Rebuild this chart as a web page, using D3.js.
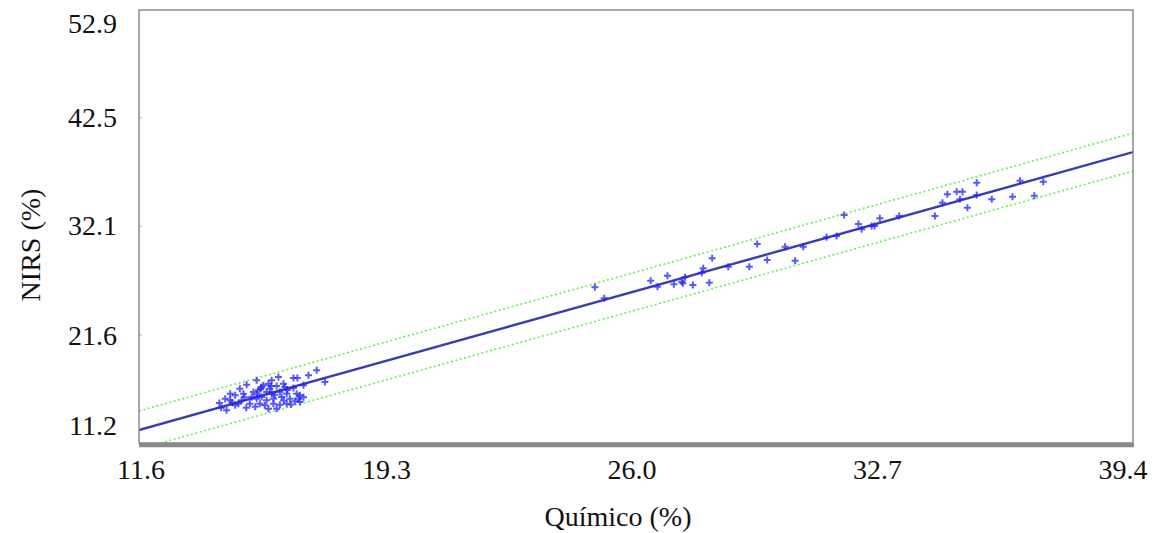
<!DOCTYPE html>
<html>
<head>
<meta charset="utf-8">
<script src="https://cdn.jsdelivr.net/npm/d3@7"></script>
<style>
  html, body { margin: 0; padding: 0; background: #fff; }
  svg { display: block; }
  text { font-family: "Liberation Serif", "Times New Roman", serif; fill: #111; }
</style>
</head>
<body>
<svg id="chart" width="1160" height="533"></svg>
<script>
// Químico (%) values
const quimico = [
  16.57,16.34,15.92,16.03,15.50,15.31,14.89,14.61,15.08,15.22,15.45,15.68,15.92,16.20,16.80,
  14.42,14.15,14.29,14.52,14.80,14.94,15.17,15.31,15.54,15.73,16.01,16.10,14.01,14.15,14.47,
  14.75,14.89,15.03,15.17,15.36,15.59,15.82,16.06,14.98,15.12,15.36,15.54,14.70,15.73,15.96,
  14.38,14.29,15.22,15.45,16.10,15.26,15.03,15.64,13.90,13.85,14.05,14.60,15.85,
  14.20,14.55,14.85,15.40,15.65,15.00,15.75,16.20,14.90,15.30,
  24.35,24.61,25.91,26.10,26.38,26.56,26.78,26.81,26.87,27.09,27.38,27.34,27.55,27.63,28.08,
  28.67,28.89,29.17,29.67,29.95,30.18,30.83,31.11,31.32,31.72,31.81,32.09,32.17,32.32,32.86,
  33.86,34.07,34.21,34.47,34.63,34.56,34.77,35.03,35.03,35.45,36.03,36.24,36.64,36.89
];
// NIRS (%) values
const nirs = [
  18.20,17.72,17.46,17.46,17.56,17.24,17.24,16.81,16.76,16.91,16.69,16.59,16.50,16.76,17.07,
  16.43,15.95,15.79,15.95,16.11,16.28,16.11,15.95,16.11,15.95,15.95,15.79,15.47,15.31,15.31,
  15.63,15.47,15.63,15.31,15.47,15.63,15.47,15.47,14.98,14.83,14.98,14.89,14.98,14.98,15.22,
  14.98,14.83,14.50,14.50,15.15,16.43,16.59,16.91,14.60,15.05,14.35,14.60,14.90,
  15.10,15.60,14.70,15.85,15.30,16.40,16.30,15.60,15.90,16.70,
  26.19,25.13,26.83,26.25,27.31,26.48,26.73,26.58,27.16,26.42,28.02,27.60,26.64,28.99,28.18,
  28.18,30.36,28.82,30.10,28.76,30.10,31.01,31.13,33.16,32.29,31.78,32.10,32.10,32.84,33.06,
  33.06,34.34,35.15,35.40,35.40,34.67,33.86,36.27,35.08,34.67,34.92,36.46,35.02,36.36
];
const xTickLabels = ["11.6", "19.3", "26.0", "32.7", "39.4"];
const yTickValues = [11.2, 21.6, 32.1, 42.5, 52.9];
const xDomain = [11.6, 39.4];
const yDomain = [11.2, 52.9];
// fitted line: NIRS = a + b*(Químico - 11.6), band ±d
const fitA = 12.45, fitB = 0.963, bandD = 1.83;

const svg = d3.select("#chart");
const L = 139, R = 1133, T = 10, B = 443;
const x = d3.scaleLinear().domain(xDomain).range([L, R]);
const y = d3.scaleLinear().domain(yDomain).range([B, T]);

svg.append("defs").append("clipPath").attr("id", "clip")
  .append("rect").attr("x", L).attr("y", T).attr("width", R - L).attr("height", B - T);

const plot = svg.append("g").attr("clip-path", "url(#clip)");

const fit = v => fitA + fitB * (v - xDomain[0]);
const lineGen = off => d3.line().x(d => x(d)).y(d => y(fit(d) + off));

// band lines
[bandD, -bandD].forEach(off => {
  plot.append("path").datum(xDomain)
    .attr("d", lineGen(off))
    .attr("fill", "none").attr("stroke", "#66ee55")
    .attr("stroke-width", 1.6).attr("stroke-dasharray", "2,2.5");
});
// fitted line
plot.append("path").datum(xDomain).attr("d", lineGen(0))
  .attr("fill", "none").attr("stroke", "#3a3acc").attr("stroke-width", 2.4);
plot.append("path").datum(xDomain).attr("d", lineGen(0))
  .attr("fill", "none").attr("stroke", "#444").attr("stroke-width", 0.9)
  .attr("stroke-opacity", 0.6).attr("stroke-dasharray", "14,6");

// points
const pts = quimico.map((q, i) => [q, nirs[i]]);
plot.append("g").selectAll("path").data(pts).join("path")
  .attr("transform", d => `translate(${x(d[0])},${y(d[1])})`)
  .attr("d", "M-3.5,0H3.5M0,-3.5V3.5")
  .attr("stroke", "#2020ff").attr("stroke-width", 2).attr("stroke-opacity", 0.75);

// frame
svg.append("rect").attr("x", L).attr("y", T).attr("width", R - L).attr("height", B - T)
  .attr("fill", "none").attr("stroke", "#8a8a8a").attr("stroke-width", 1.5);
svg.append("line").attr("x1", L).attr("x2", R + 1).attr("y1", B + 2).attr("y2", B + 2)
  .attr("stroke", "#8a8a8a").attr("stroke-width", 4.5);

// y ticks (small inner marks) and labels
svg.append("g").selectAll("line").data(yTickValues.slice(1, -1)).join("line")
  .attr("x1", L).attr("x2", L + 3).attr("y1", d => y(d)).attr("y2", d => y(d))
  .attr("stroke", "#aaa").attr("stroke-width", 1);
svg.append("g").selectAll("text").data(yTickValues).join("text")
  .attr("x", 117)
  .attr("y", d => Math.min(Math.max(y(d), 23.5), 425))
  .attr("text-anchor", "end").attr("dominant-baseline", "central")
  .attr("font-size", 28).text(d => d.toFixed(1));

// x labels
const xLab = d3.scalePoint().domain(xTickLabels).range([141, 1123]);
svg.append("g").selectAll("text").data(xTickLabels).join("text")
  .attr("x", d => xLab(d)).attr("y", 479)
  .attr("text-anchor", "middle").attr("font-size", 28).text(d => d);

// axis titles
svg.append("text").attr("x", 618).attr("y", 526).attr("text-anchor", "middle")
  .attr("font-size", 28).text("Químico (%)");
svg.append("text").attr("transform", "translate(40,245) rotate(-90)")
  .attr("text-anchor", "middle").attr("font-size", 28).text("NIRS (%)");
</script>
</body>
</html>
